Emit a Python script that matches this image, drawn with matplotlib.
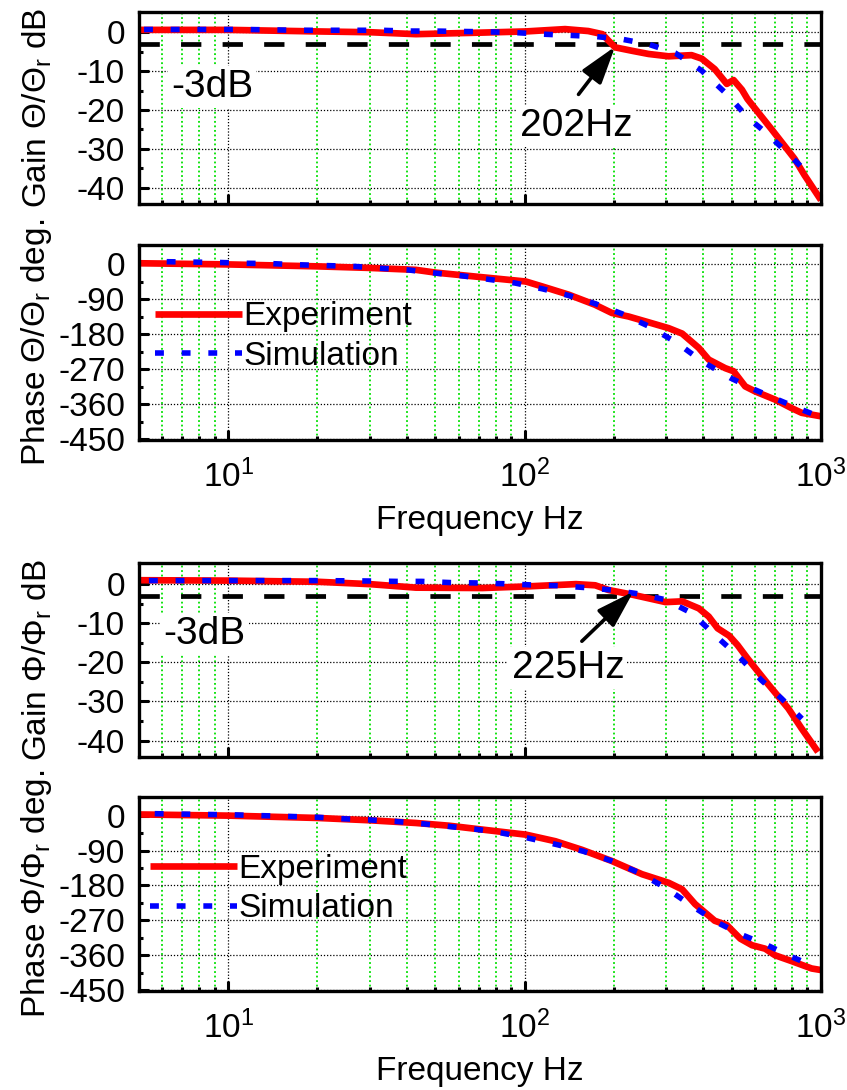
import matplotlib
matplotlib.use('Agg')
import matplotlib.pyplot as plt
from matplotlib.ticker import FixedLocator, NullFormatter

plt.rcParams['font.family'] = ['Liberation Sans', 'DejaVu Sans']
plt.rcParams['mathtext.fontset'] = 'custom'
plt.rcParams['mathtext.rm'] = 'Liberation Sans'
plt.rcParams['mathtext.it'] = 'Liberation Sans:italic'
plt.rcParams['mathtext.bf'] = 'Liberation Sans:bold'
plt.rcParams['mathtext.default'] = 'regular'
plt.rcParams['axes.unicode_minus'] = False

# ---------------- data ----------------
# Gain Theta/Theta_r (dB)
f_gain_theta_exp = [5, 10, 20, 30, 43, 55.6, 72, 101, 137, 164, 183, 192, 202, 231, 262, 306,
                    366, 396, 438, 481, 507, 541, 565, 680, 815, 880, 1000]
gain_theta_exp = [0.6, 0.6, 0.2, 0.0, -0.5, -0.3, -0.1, 0.2, 0.8, 0.3, -0.5, -2.2, -3.9, -4.8,
                  -5.6, -6.2, -5.9, -6.8, -9.5, -13.3, -12.3, -14.8, -17.2, -24.9, -32.6, -36.8, -43.2]
f_gain_theta_sim = [5.2, 11.5, 17.5, 32.8, 40.3, 49.7, 60.9, 75, 93, 115, 141, 173, 213, 262,
                    323, 396, 485, 565, 660, 776, 905]
gain_theta_sim = [0.7, 0.7, 0.5, 0.5, 0.3, 0.3, 0.2, 0.1, -0.1, -0.5, -0.8, -1.1, -1.8, -3.1,
                  -5.4, -9.9, -16.2, -21.9, -26.2, -31.3, -36.4]

# Phase Theta/Theta_r (deg)
f_phase_theta_exp = [5, 10, 20, 30, 43, 50, 72, 101, 115, 141, 173, 197, 224, 262, 306, 340,
                     387, 418, 475, 507, 555, 600, 700, 796, 860, 1000]
phase_theta_exp = [3, 0, -5, -9, -14, -21, -33, -44, -57, -78, -104, -125, -134, -149, -164,
                   -178, -215, -245, -267, -275, -314, -327, -348, -370, -382, -391]
f_phase_theta_sim = [6.2, 7.6, 9.4, 11.5, 14.1, 17.4, 21.4, 26.6, 32.8, 40.3, 49.6, 61, 75, 93,
                     115, 141, 173, 213, 262, 327, 396, 494, 592, 709, 849, 930]
phase_theta_sim = [7, 6, 5, 3, 2, -1, -3, -5, -10, -14, -22, -29, -38, -48, -63, -80, -101,
                   -127, -159, -202, -249, -292, -321, -347, -372, -384]

# Gain Phi/Phi_r (dB)
f_gain_phi_exp = [5, 10, 20, 30, 43, 72, 101, 149, 173, 192, 231, 299, 340, 387, 418, 448, 490,
                  523, 565, 660, 776, 860, 977]
gain_phi_exp = [1.0, 0.9, 0.6, 0.0, -0.9, -1.0, -0.6, 0.0, -0.3, -1.5, -2.7, -4.6, -4.4, -6.2,
                -8.3, -11.3, -13.2, -15.6, -19.0, -25.4, -31.8, -36.9, -42.9]
f_gain_phi_sim = [5.4, 10, 20, 30, 37, 45, 56, 69, 85, 105, 130, 161, 197, 243, 299, 366, 444,
                  536, 628, 735, 862]
gain_phi_sim = [0.9, 0.9, 0.9, 0.8, 0.7, 0.7, 0.4, 0.3, 0.1, -0.2, -0.4, -0.9, -1.5, -2.5, -4.0,
                -7.4, -13.4, -19.0, -24.5, -29.2, -34.4]

# Phase Phi/Phi_r (deg)
f_phase_phi_exp = [5, 10, 20, 30, 43, 55.6, 82, 101, 127, 156, 197, 249, 306, 340, 376, 438,
                   481, 534, 585, 648, 700, 796, 930, 1000]
phase_phi_exp = [3, 0, -6, -12, -19, -26, -41, -49, -66, -88, -117, -151, -173, -190, -228,
                 -271, -282, -317, -334, -343, -360, -375, -394, -398]
f_phase_phi_sim = [5.65, 6.9, 8.5, 10.5, 12.9, 15.9, 19.8, 24.3, 29.9, 36.8, 45.3, 55.6, 68.4,
                   84, 103, 129, 158, 197, 243, 299, 366, 448, 548, 659, 786, 930]
phase_phi_sim = [5, 4, 3, 2, 0, -2, -4, -8, -11, -15, -21, -28, -35, -45, -58, -75, -92, -117,
                 -147, -186, -232, -276, -309, -334, -362, -386]

x_major = [10, 100, 1000]
x_minor = [6, 7, 8, 9, 20, 30, 40, 50, 60, 70, 80, 90, 200, 300, 400, 500, 600, 700, 800, 900]
gain_ticks = [0, -10, -20, -30, -40]
gain_minor = [-5, -15, -25, -35]
phase_ticks = [0, -90, -180, -270, -360, -450]
phase_minor = [-45, -135, -225, -315, -405]

RED = '#ff0000'
BLUE = '#0000ff'
W, H = 847, 1090
fig = plt.figure(figsize=(W / 100, H / 100), dpi=100)


def px_axes(l, t, r, b):
    return fig.add_axes([l / W, 1 - b / H, (r - l) / W, (b - t) / H])


def style(ax, ylim, yt, ym, xlabels):
    ax.set_xscale('log')
    ax.set_xlim(5, 1000)
    ax.set_ylim(*ylim)
    ax.xaxis.set_major_locator(FixedLocator(x_major))
    ax.xaxis.set_minor_locator(FixedLocator(x_minor))
    ax.xaxis.set_minor_formatter(NullFormatter())
    if not xlabels:
        ax.xaxis.set_major_formatter(NullFormatter())
    ax.yaxis.set_major_locator(FixedLocator(yt))
    ax.yaxis.set_minor_locator(FixedLocator(ym))
    ax.grid(which='major', axis='both', color='k', ls=(0, (1, 1.5)), lw=0.9)
    ax.grid(which='minor', axis='x', color='#00e000', ls=(0, (1, 1.5)), lw=1.3)
    ax.tick_params(which='major', direction='in', length=7, width=2.2, labelsize=24)
    ax.tick_params(axis='y', which='major', pad=10)
    ax.tick_params(axis='x', which='major', pad=14)
    ax.tick_params(which='minor', direction='in', length=3, width=2.2)
    for s in ax.spines.values():
        s.set_linewidth(2.4)


def curves(ax, fe, ye, fs, ys):
    le, = ax.plot(fe, ye, color=RED, lw=4.8, solid_capstyle='butt', zorder=2.2, label='Experiment')
    ls_, = ax.plot(fs, ys, color=BLUE, lw=4.0, ls=(0, (1.6, 3.2)), zorder=2.3, label='Simulation')
    return le, ls_


ax1 = px_axes(139, 12, 821, 204)
ax2 = px_axes(139, 245, 821, 440)
ax3 = px_axes(139, 563, 821, 757)
ax4 = px_axes(139, 797, 821, 991)

style(ax1, (-44.2, 5.2), gain_ticks, gain_minor, False)
style(ax2, (-452, 50), phase_ticks, phase_minor, True)
style(ax3, (-44.2, 5.4), gain_ticks, gain_minor, False)
style(ax4, (-452, 48), phase_ticks, phase_minor, True)

curves(ax1, f_gain_theta_exp, gain_theta_exp, f_gain_theta_sim, gain_theta_sim)
curves(ax2, f_phase_theta_exp, phase_theta_exp, f_phase_theta_sim, phase_theta_sim)
curves(ax3, f_gain_phi_exp, gain_phi_exp, f_gain_phi_sim, gain_phi_sim)
curves(ax4, f_phase_phi_exp, phase_phi_exp, f_phase_phi_sim, phase_phi_sim)

for ax in (ax1, ax3):
    ax.axhline(-3, color='k', lw=3.4, ls=(0, (4.3, 4.5)), zorder=1.9)

tb = dict(fc='white', ec='none', boxstyle='square,pad=0.08')
ax1.text(8.82, -14.0, '-3dB', fontsize=28, ha='center', va='center', bbox=tb, zorder=3)
ax3.text(8.32, -12.8, '-3dB', fontsize=28, ha='center', va='center', bbox=tb, zorder=3)
ax1.text(150, -24.1, '202Hz', fontsize=28, ha='center', va='center', bbox=tb, zorder=3)
ax3.text(140, -21.5, '225Hz', fontsize=28, ha='center', va='center', bbox=tb, zorder=3)

ap = dict(arrowstyle='-|>,head_length=1.15,head_width=0.36', lw=2.6, color='k',
          mutation_scale=20, shrinkA=0, shrinkB=0)
ax1.annotate('', xy=(202, -3.7), xytext=(152, -16.0), arrowprops=ap, zorder=4)
ax3.annotate('', xy=(233, -1.9), xytext=(156, -14.6), arrowprops=ap, zorder=4)

ax1.set_ylabel('Gain Θ/Θ$_r$ dB', fontsize=24)
ax2.set_ylabel('Phase Θ/Θ$_r$ deg.', fontsize=24)
ax3.set_ylabel('Gain Φ/Φ$_r$ dB', fontsize=24)
ax4.set_ylabel('Phase Φ/Φ$_r$ deg.', fontsize=24)
for ax in (ax1, ax2, ax3, ax4):
    ax.yaxis.set_label_coords(-0.125, 0.5)

ax2.set_xlabel('Frequency Hz', fontsize=24, labelpad=8)
ax4.set_xlabel('Frequency Hz', fontsize=24, labelpad=8)

for ax, yb, xb in ((ax2, 0.53, 0.0235), (ax4, 0.525, 0.016)):
    ax.legend(loc='center left', bbox_to_anchor=(xb, yb), frameon=False, fontsize=24,
              handlelength=2.6, handletextpad=0.05, borderaxespad=0, borderpad=0,
              labelspacing=0.25)

fig.savefig('out.png', dpi=100)
